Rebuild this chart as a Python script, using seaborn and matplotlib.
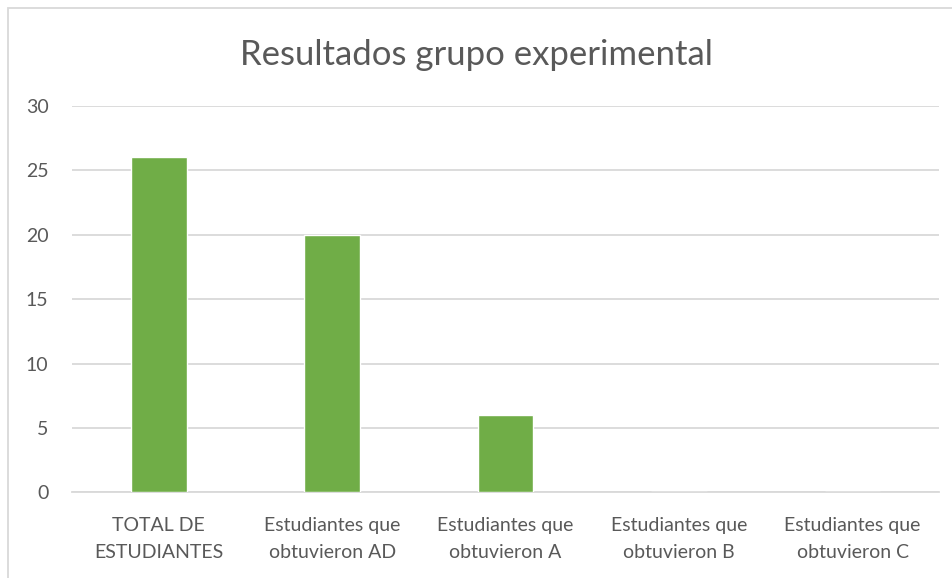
import matplotlib
matplotlib.use("Agg")
import matplotlib.pyplot as plt
import seaborn as sns
import pandas as pd
from matplotlib.patches import Rectangle

categorias = [
    "TOTAL DE\nESTUDIANTES",
    "Estudiantes que\nobtuvieron AD",
    "Estudiantes que\nobtuvieron A",
    "Estudiantes que\nobtuvieron B",
    "Estudiantes que\nobtuvieron C",
]
valores = [26, 20, 6, 0, 0]

df = pd.DataFrame({"categoria": categorias, "valor": valores})

sns.set_theme(style="white")
plt.rcParams["font.family"] = ["Lato", "DejaVu Sans"]
texto = "#595959"

fig = plt.figure(figsize=(9.53, 5.78), dpi=100)
ax = fig.add_axes([0.0756, 0.148, 0.91, 0.669])

sns.barplot(data=df, x="categoria", y="valor", color="#70AD47", width=0.32,
            saturation=1, ax=ax, zorder=3)

ax.set_ylim(0, 30)
ax.set_yticks(range(0, 31, 5))
ax.set_xlim(-0.5, len(categorias) - 0.5)
ax.grid(axis="y", color="#D9D9D9", linewidth=1.3, zorder=0)
for s in ["top", "right", "left"]:
    ax.spines[s].set_visible(False)
ax.spines["bottom"].set_color("#D9D9D9")
ax.spines["bottom"].set_linewidth(1.3)
ax.tick_params(axis="both", length=0, labelsize=14, labelcolor=texto)
ax.tick_params(axis="y", pad=17)
ax.tick_params(axis="x", pad=18)
for lbl in ax.get_xticklabels():
    lbl.set_linespacing(1.65)
ax.set_xlabel("")
ax.set_ylabel("")

fig.text(0.5, 0.905, "Resultados grupo experimental", ha="center", va="center",
         fontsize=25, color=texto)

fig.add_artist(Rectangle((8 / 953, -0.1), 1.2, 1 - 8 / 578 + 0.1,
                         transform=fig.transFigure, fill=False,
                         edgecolor="#D9D9D9", linewidth=1.3))

fig.savefig("out.png", dpi=100)
